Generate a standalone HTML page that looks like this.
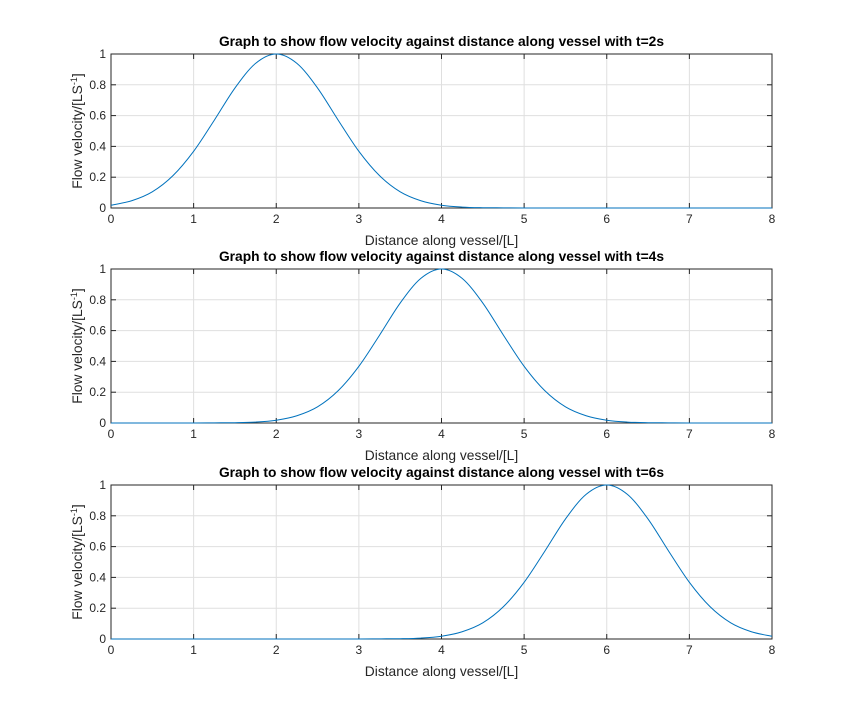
<!DOCTYPE html>
<html><head><meta charset="utf-8"><style>
body{margin:0;background:#fff;}
svg{display:block;font-family:"Liberation Sans",Arial,sans-serif;}
</style></head><body>
<svg id="fig" width="854" height="719"></svg>
<script>
const xTicks=[0,1,2,3,4,5,6,7,8];
const yTicks=[0,0.2,0.4,0.6,0.8,1];
const yTickLabels=["0","0.2","0.4","0.6","0.8","1"];
const xSamples=[0,0.25,0.5,0.75,1,1.25,1.5,1.75,2,2.25,2.5,2.75,3,3.25,3.5,3.75,4,4.25,4.5,4.75,5,5.25,5.5,5.75,6,6.25,6.5,6.75,7,7.25,7.5,7.75,8];
const titles=["Graph to show flow velocity against distance along vessel with t=2s","Graph to show flow velocity against distance along vessel with t=4s","Graph to show flow velocity against distance along vessel with t=6s"];
const velT2=[0.018,0.047,0.105,0.21,0.368,0.57,0.779,0.939,1,0.939,0.779,0.57,0.368,0.21,0.105,0.047,0.018,0.006,0.002,0.001,0,0,0,0,0,0,0,0,0,0,0,0,0];
const velT4=[0,0,0,0,0,0.001,0.002,0.006,0.018,0.047,0.105,0.21,0.368,0.57,0.779,0.939,1,0.939,0.779,0.57,0.368,0.21,0.105,0.047,0.018,0.006,0.002,0.001,0,0,0,0,0];
const velT6=[0,0,0,0,0,0,0,0,0,0,0,0,0,0.001,0.002,0.006,0.018,0.047,0.105,0.21,0.368,0.57,0.779,0.939,1,0.939,0.779,0.57,0.368,0.21,0.105,0.047,0.018];
const series=[velT2,velT4,velT6];
const NS="http://www.w3.org/2000/svg";
const svg=document.getElementById('fig');
function mk(tag,attrs,parent){const e=document.createElementNS(NS,tag);for(const k in attrs)e.setAttribute(k,attrs[k]);(parent||svg).appendChild(e);return e;}
const L=111,R=772,tops=[54,269,485],H=154;
tops.forEach((T,i)=>{
  const g=mk('g',{});
  
  
  const B=T+H;
  const sx=v=>L+(v-0)/(8-0)*(R-L);
  const sy=v=>B-v*(B-T);
  mk('rect',{x:L,y:T,width:R-L,height:H,fill:'#fff'},g);
  xTicks.forEach(t=>{
    const l=mk('line',{x1:sx(t),x2:sx(t),y1:T,y2:B,stroke:'#dfdfdf','stroke-width':1},g);
    
    
    mk('line',{x1:sx(t),x2:sx(t),y1:B,y2:B-5,stroke:'#262626'},g);
    mk('line',{x1:sx(t),x2:sx(t),y1:T,y2:T+5,stroke:'#262626'},g);
    const tx=mk('text',{x:sx(t),y:B+15,'font-size':12,'text-anchor':'middle',fill:'#262626'},g);
    tx.textContent=t;
    
    
  });
  yTicks.forEach((t,j)=>{
    const l=mk('line',{x1:L,x2:R,y1:sy(t),y2:sy(t),stroke:'#dfdfdf','stroke-width':1},g);
    
    
    mk('line',{x1:L,x2:L+5,y1:sy(t),y2:sy(t),stroke:'#262626'},g);
    mk('line',{x1:R,x2:R-5,y1:sy(t),y2:sy(t),stroke:'#262626'},g);
    const tx=mk('text',{x:L-5,y:sy(t)+4,'font-size':12,'text-anchor':'end',fill:'#262626'},g);
    tx.textContent=yTickLabels[j];
    
    
  });
  const box=mk('rect',{x:L,y:T,width:R-L,height:H,fill:'none',stroke:'#262626','stroke-width':1},g);
  
  
  const vals=series[i];
  const pts=xSamples.map((x,k)=>[sx(x),sy(vals[k])]);
  let d='M'+pts[0][0]+','+pts[0][1];
  for(let k=0;k<pts.length-1;k++){
    const p0=pts[Math.max(0,k-1)],p1=pts[k],p2=pts[k+1],p3=pts[Math.min(pts.length-1,k+2)];
    const c1=[p1[0]+(p2[0]-p0[0])/6,p1[1]+(p2[1]-p0[1])/6];
    const c2=[p2[0]-(p3[0]-p1[0])/6,p2[1]-(p3[1]-p1[1])/6];
    d+=` C${c1[0]},${Math.min(B,c1[1])} ${c2[0]},${Math.min(B,c2[1])} ${p2[0]},${p2[1]}`;
  }
  const path=mk('path',{d:d,fill:'none',stroke:'#0072bd','stroke-width':1},g);
  
  
  const ti=mk('text',{x:(L+R)/2,y:T-8,'font-size':13.8,'font-weight':'bold','text-anchor':'middle',fill:'#000'},g);
  ti.textContent=titles[i];
  
  
  const xl=mk('text',{x:(L+R)/2,y:B+37,'font-size':13.8,'text-anchor':'middle',fill:'#262626'},g);
  xl.textContent='Distance along vessel/[L]';
  
  
  const cy=T+H/2;
  const yl=mk('text',{x:82,y:cy,'font-size':13.8,'text-anchor':'middle',fill:'#262626',transform:`rotate(-90 82 ${cy})`},g);
  yl.innerHTML='Flow velocity/[LS<tspan baseline-shift="super" font-size="9">-1</tspan>]';
  
  
});
</script>
</body></html>
